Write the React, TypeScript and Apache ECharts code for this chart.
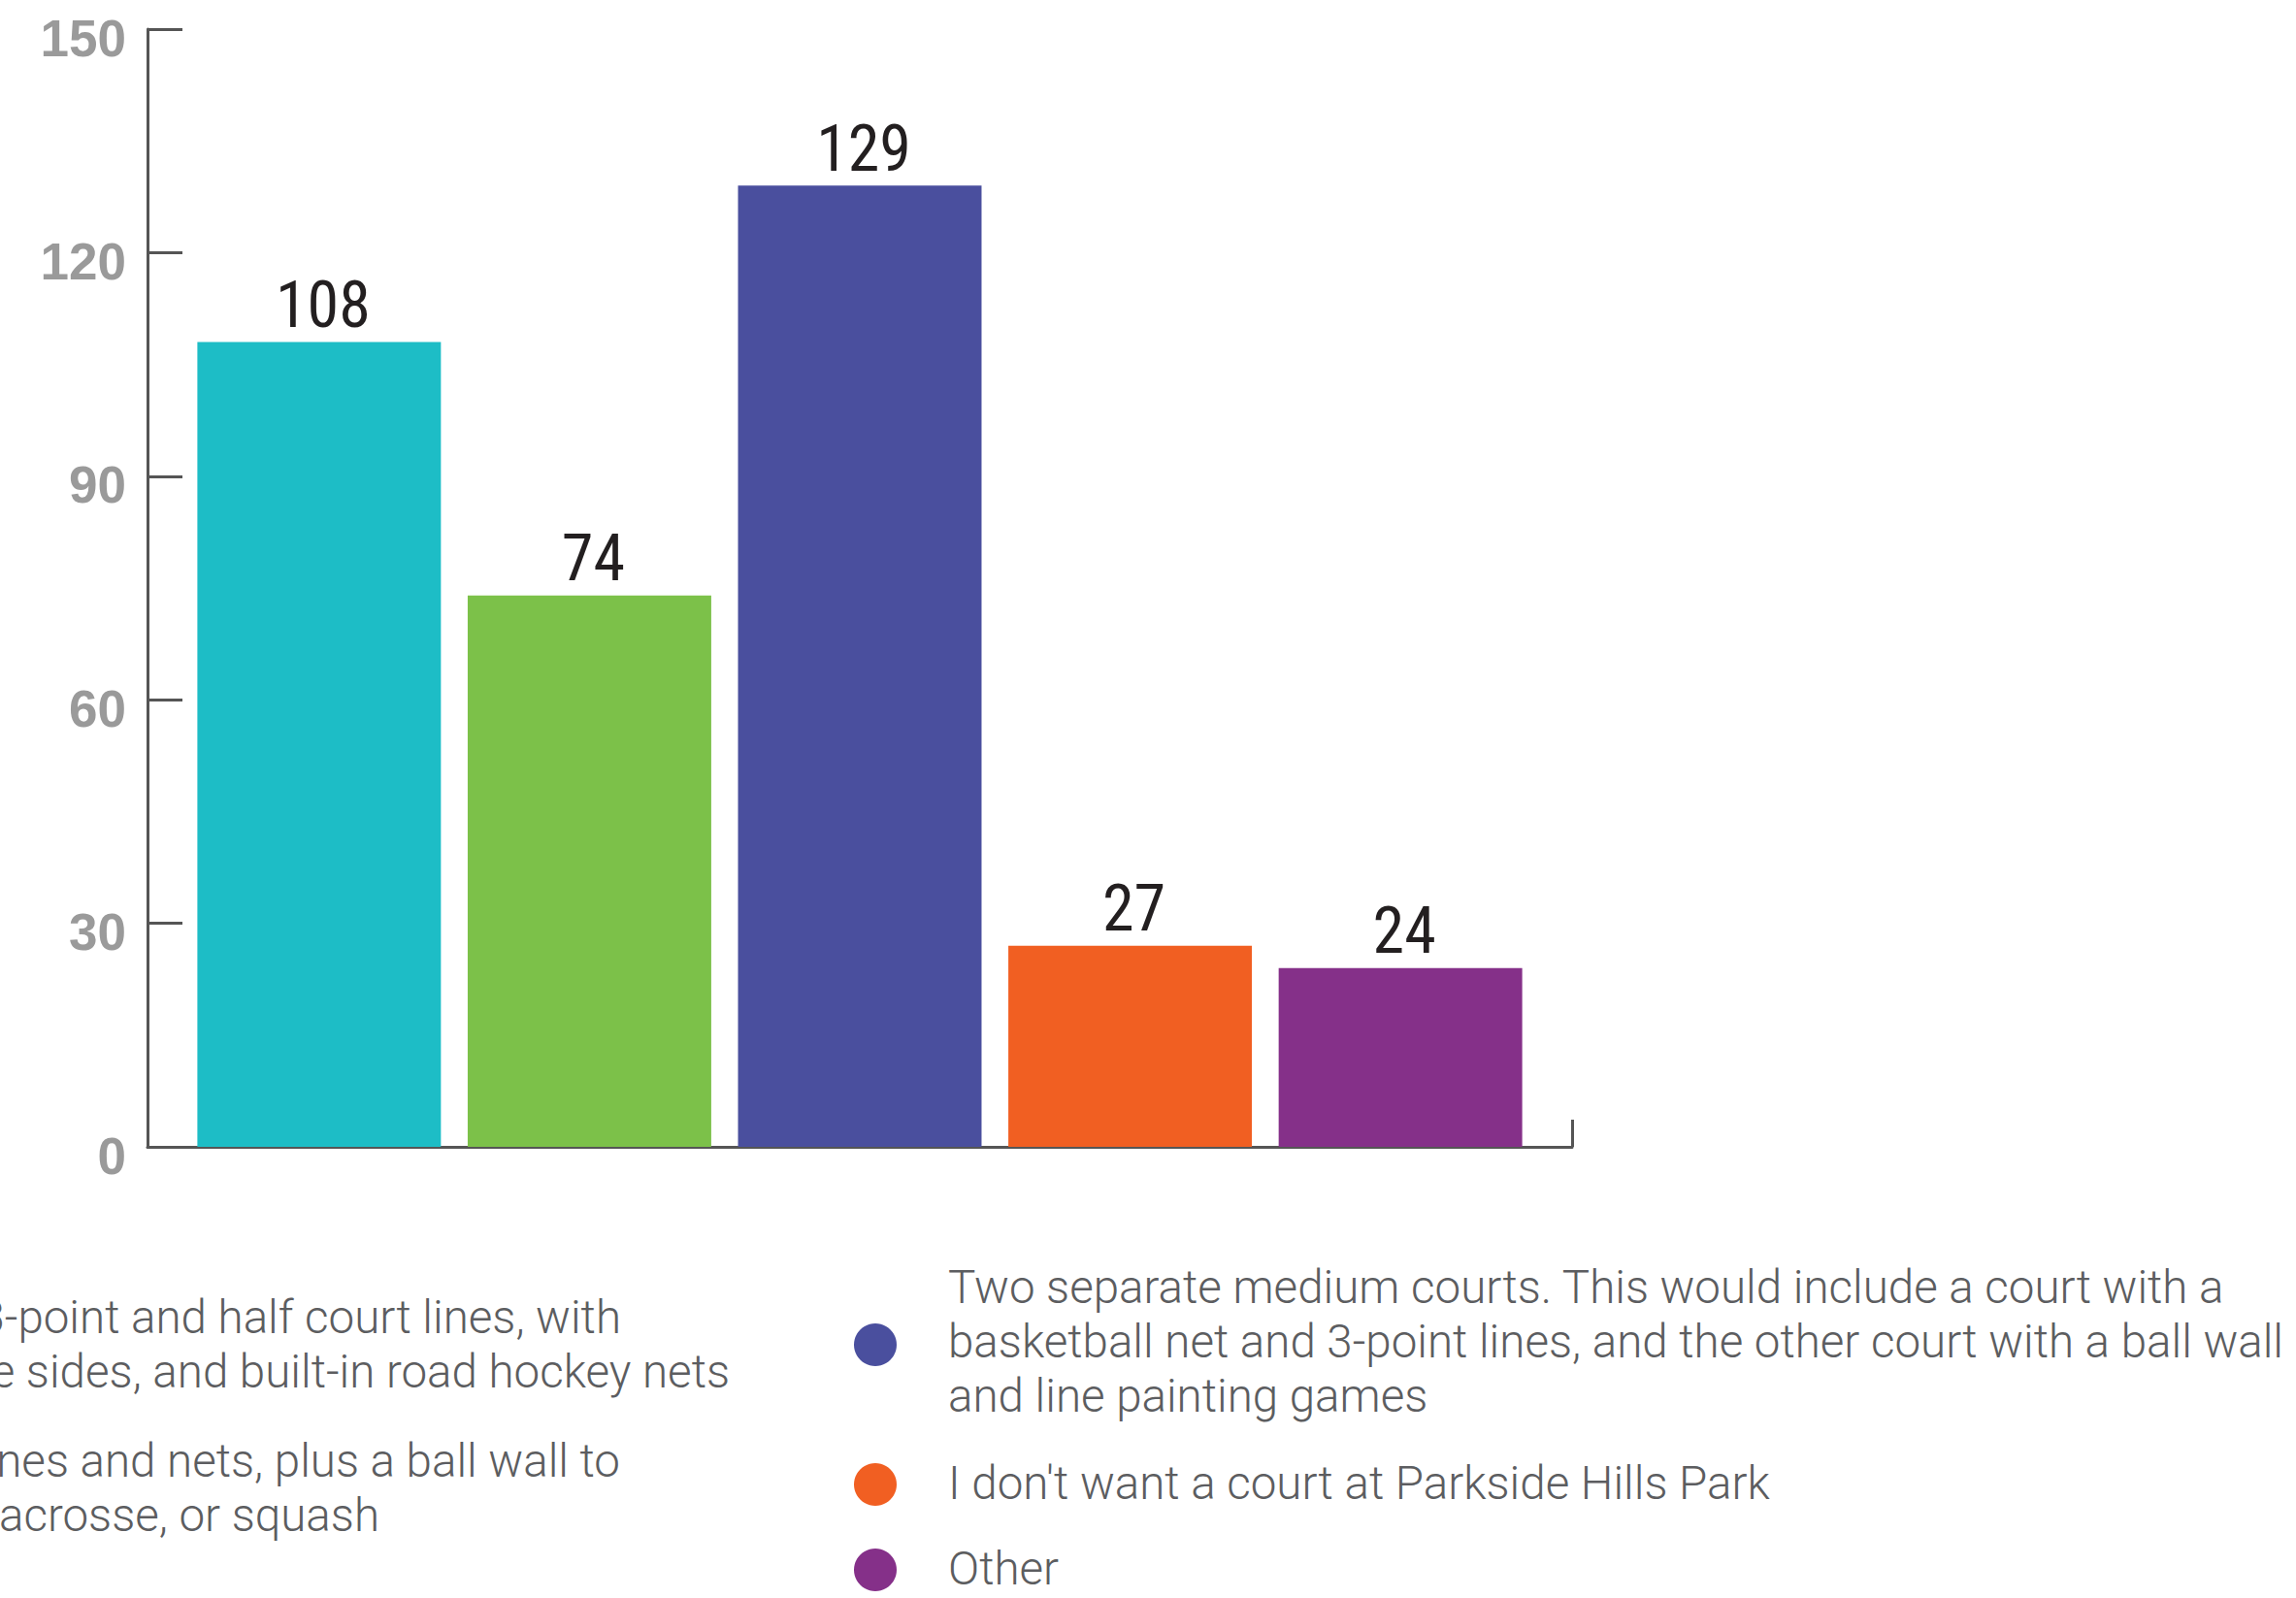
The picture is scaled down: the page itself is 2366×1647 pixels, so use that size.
import React, { useEffect, useRef } from "react";
import * as echarts from "echarts";

// ---- data ----
const categories = ["Court preference"];
const seriesNames = [
  "One large court with a basketball net, 3-point and half court lines, with ball walls on the sides, and built-in road hockey nets",
  "One large court with pickleball lines and nets, plus a ball wall to play handball, lacrosse, or squash",
  "Two separate medium courts. This would include a court with a basketball net and 3-point lines, and the other court with a ball wall and line painting games",
  "I don't want a court at Parkside Hills Park",
  "Other",
];
// legend text as wrapped in the reference
const legendLines = [
  ["One large court with a basketball net, 3-point and half court lines, with", "ball walls on the sides, and built-in road hockey nets"],
  ["One large court with pickleball lines and nets, plus a ball wall to", "play handball, lacrosse, or squash"],
  ["Two separate medium courts. This would include a court with a", "basketball net and 3-point lines, and the other court with a ball wall", "and line painting games"],
  ["I don't want a court at Parkside Hills Park"],
  ["Other"],
];
const seriesValues = [108, 74, 129, 27, 24];
const seriesColors = ["#1dbdc6", "#7cc149", "#4a4f9e", "#f15f22", "#853089"];
const yMin = 0;
const yMax = 150;
const yInterval = 30;

export default function App() {
  const ref = useRef<HTMLDivElement>(null);

  useEffect(() => {
    if (!ref.current) return;
    const chart = echarts.init(ref.current, null, { renderer: "svg" });

    const legendFont = {
      fontFamily: "Roboto, 'Noto Sans', sans-serif",
      fontWeight: 300 as any,
      fontSize: 47.5,
      fill: "#5c5d60",
    };
    const baselineToMiddle = 16;
    const lineStep = 56;

    const graphic: any[] = [];
    // left column (clipped by the page edge in the reference): lines end at these x positions
    const leftCol = [
      { idx: 0, ends: [640, 752], firstBaseline: 1374 },
      { idx: 1, ends: [639, 391], firstBaseline: 1522 },
    ];
    leftCol.forEach((item) => {
      legendLines[item.idx].forEach((line, k) => {
        graphic.push({
          type: "text",
          x: item.ends[k],
          y: item.firstBaseline + k * lineStep - baselineToMiddle,
          style: { ...legendFont, text: line, align: "right", verticalAlign: "middle" },
        });
      });
    });
    // right column
    const rightCol = [
      { idx: 2, dotY: 1386, firstBaseline: 1343 },
      { idx: 3, dotY: 1530, firstBaseline: 1545 },
      { idx: 4, dotY: 1618, firstBaseline: 1633 },
    ];
    rightCol.forEach((item) => {
      graphic.push({
        type: "circle",
        shape: { cx: 902, cy: item.dotY, r: 22 },
        style: { fill: seriesColors[item.idx] },
      });
      legendLines[item.idx].forEach((line, k) => {
        graphic.push({
          type: "text",
          x: 977,
          y: item.firstBaseline + k * lineStep - baselineToMiddle,
          style: { ...legendFont, text: line, align: "left", verticalAlign: "middle" },
        });
      });
    });

    const option: any = {
      animation: false,
      backgroundColor: "#ffffff",
      grid: { left: 152, top: 30, width: 1468, height: 1152, containLabel: false },
      xAxis: {
        type: "category",
        data: categories,
        axisLine: { show: true, lineStyle: { color: "#555555", width: 3 } },
        axisTick: { show: true, inside: true, length: 28, lineStyle: { color: "#555555", width: 3 } },
        axisLabel: { show: false },
        splitLine: { show: false },
      },
      yAxis: {
        type: "value",
        min: yMin,
        max: yMax,
        interval: yInterval,
        axisLine: { show: true, lineStyle: { color: "#555555", width: 3 } },
        axisTick: { show: true, inside: true, length: 36, lineStyle: { color: "#555555", width: 3 } },
        splitLine: { show: false },
        axisLabel: {
          margin: 22,
          formatter: "{v|{value}}",
          rich: {
            v: {
              color: "#9a9a9a",
              fontSize: 53,
              fontWeight: "bold",
              fontFamily: "'Liberation Sans', Arial, sans-serif",
              padding: [18, 0, 0, 0],
            },
          },
        },
      },
      series: seriesValues.map((v, i) => ({
        type: "bar",
        name: seriesNames[i],
        data: [v],
        barGap: "11%",
        barCategoryGap: "7%",
        itemStyle: { color: seriesColors[i] },
        label: {
          show: true,
          position: "top",
          distance: 5,
          offset: [4, 0],
          fontSize: 66,
          color: "#231f20",
          fontFamily: "'Liberation Sans Narrow', 'Roboto Condensed', 'DejaVu Sans Condensed', Roboto, sans-serif",
        },
      })),
      graphic,
    };
    chart.setOption(option);
    return () => chart.dispose();
  }, []);

  return (
    <div
      ref={ref}
      style={{ position: "fixed", left: 0, top: 0, width: 2366, height: 1647, background: "#fff" }}
    />
  );
}
